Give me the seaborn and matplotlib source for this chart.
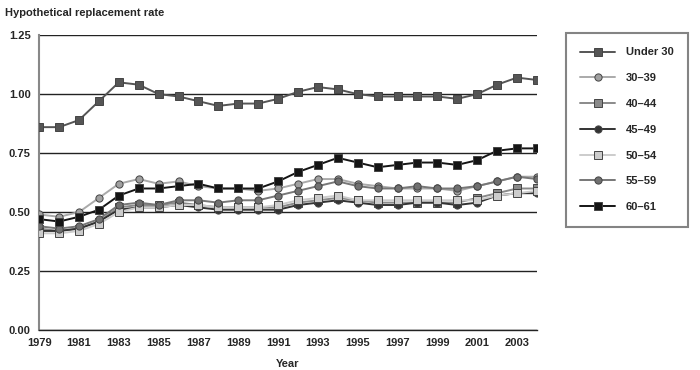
import matplotlib
matplotlib.use("Agg")
import matplotlib.pyplot as plt
import seaborn as sns
import pandas as pd

years = list(range(1979, 2005))
under_30 = [0.86,0.86,0.89,0.97,1.05,1.04,1.00,0.99,0.97,0.95,0.96,0.96,0.98,1.01,1.03,1.02,1.00,0.99,0.99,0.99,0.99,0.98,1.00,1.04,1.07,1.06]
age_30_39 = [0.49,0.48,0.50,0.56,0.62,0.64,0.62,0.63,0.61,0.60,0.60,0.59,0.60,0.62,0.64,0.64,0.62,0.61,0.60,0.60,0.60,0.59,0.61,0.63,0.65,0.65]
age_40_44 = [0.43,0.42,0.43,0.46,0.52,0.53,0.53,0.54,0.53,0.52,0.52,0.52,0.52,0.54,0.55,0.56,0.55,0.54,0.54,0.54,0.54,0.54,0.56,0.58,0.60,0.60]
age_45_49 = [0.42,0.42,0.43,0.46,0.51,0.52,0.52,0.53,0.52,0.51,0.51,0.51,0.51,0.53,0.54,0.55,0.54,0.53,0.53,0.54,0.54,0.53,0.54,0.57,0.58,0.58]
age_50_54 = [0.41,0.41,0.42,0.45,0.50,0.52,0.52,0.53,0.53,0.52,0.52,0.52,0.53,0.55,0.56,0.57,0.55,0.55,0.55,0.55,0.55,0.55,0.55,0.57,0.58,0.59]
age_55_59 = [0.44,0.43,0.44,0.47,0.53,0.54,0.53,0.55,0.55,0.54,0.55,0.55,0.57,0.59,0.61,0.63,0.61,0.60,0.60,0.61,0.60,0.60,0.61,0.63,0.65,0.64]
age_60_61 = [0.47,0.46,0.48,0.51,0.57,0.60,0.60,0.61,0.62,0.60,0.60,0.60,0.63,0.67,0.70,0.73,0.71,0.69,0.70,0.71,0.71,0.70,0.72,0.76,0.77,0.77]

labels = ["Under 30", "30\u201339", "40\u201344", "45\u201349", "50\u201354", "55\u201359", "60\u201361"]
series = [under_30, age_30_39, age_40_44, age_45_49, age_50_54, age_55_59, age_60_61]
line_colors = ["#555555", "#aaaaaa", "#8a8a8a", "#333333", "#cccccc", "#777777", "#151515"]
face_colors = ["#555555", "#a0a0a0", "#8a8a8a", "#333333", "#cccccc", "#707070", "#151515"]
markers = ["s", "o", "s", "o", "s", "o", "s"]

sns.set_style("white")
plt.rcParams["font.family"] = ["Liberation Sans", "DejaVu Sans"]
plt.rcParams["font.weight"] = "bold"

fig = plt.figure(figsize=(7, 3.7), dpi=100)
ax = fig.add_axes([0.056, 0.108, 0.711, 0.797])

order = [4, 2, 3, 1, 5, 6, 0]
for i in order:
    df = pd.DataFrame({"Year": years, "rate": series[i]})
    sns.lineplot(data=df, x="Year", y="rate", ax=ax, color=line_colors[i],
                 marker=markers[i], markersize=5.2, markerfacecolor=face_colors[i],
                 markeredgecolor="#444444", markeredgewidth=0.7, linewidth=1.4,
                 label=labels[i], zorder=3 + i)

ax.set_xlim(1979, 2004)
ax.set_ylim(0, 1.25)
ax.set_yticks([0, 0.25, 0.5, 0.75, 1.0, 1.25])
ax.set_yticklabels(["0.00", "0.25", "0.50", "0.75", "1.00", "1.25"], fontsize=8, fontweight="bold")
ax.set_xticks(years)
ax.set_xticklabels([str(y) if (y - 1979) % 2 == 0 else "" for y in years], fontsize=8, fontweight="bold")
ax.grid(axis="y", color="#222222", linewidth=1.0)
ax.set_axisbelow(True)
for s in ["top", "right"]:
    ax.spines[s].set_visible(False)
ax.spines["left"].set_color("#888888")
ax.spines["left"].set_linewidth(1.5)
ax.spines["bottom"].set_color("#222222")
ax.spines["bottom"].set_linewidth(1.0)
ax.tick_params(axis="x", direction="out", length=5, width=0.8, color="#444444", pad=1)
ax.tick_params(axis="y", length=4, width=0.8, color="#888888", pad=2)
ax.set_xlabel("Year", fontsize=8, fontweight="bold", labelpad=8)
ax.set_ylabel("")

fig.text(0.007, 0.965, "Hypothetical replacement rate", fontsize=8, fontweight="bold", ha="left", va="center")

h, l = ax.get_legend_handles_labels()
hmap = dict(zip(l, h))
leg = ax.legend([hmap[x] for x in labels], labels, loc="upper left",
                bbox_to_anchor=(566 / 700, 1 - 33 / 370), bbox_transform=fig.transFigure,
                frameon=True, fancybox=False, edgecolor="#666666", handlelength=3.1,
                labelspacing=1.42, borderpad=1.3, handletextpad=1.0, borderaxespad=0,
                prop={"size": 8, "weight": "bold"})
leg.get_frame().set_linewidth(1.5)

fig.savefig("out.png", dpi=100)
